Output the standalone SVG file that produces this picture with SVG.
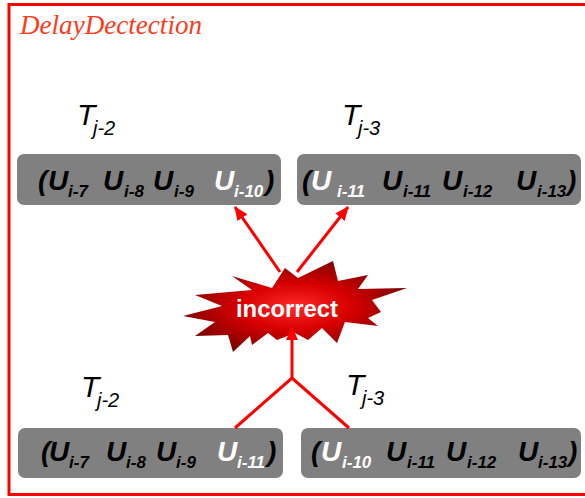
<svg xmlns="http://www.w3.org/2000/svg" width="585" height="498" viewBox="0 0 585 498">
<style>
.box{fill:#808080;}
.u{font-family:"Liberation Sans",Arial,sans-serif;font-weight:bold;font-style:italic;font-size:28px;fill:#000;}
.s{font-family:"Liberation Sans",Arial,sans-serif;font-weight:bold;font-style:italic;font-size:17px;fill:#000;}
.w{fill:#fff;}
.t{font-family:"Liberation Sans",Arial,sans-serif;font-style:italic;font-size:30px;fill:#000;}
.ts{font-family:"Liberation Sans",Arial,sans-serif;font-style:italic;font-size:20px;fill:#000;}
.conn{stroke:#ff0000;stroke-width:3;fill:none;}
</style>
<defs>
<marker id="ah" markerUnits="userSpaceOnUse" markerWidth="14" markerHeight="12" refX="13" refY="6" orient="auto">
<path d="M0,0 L14,6 L0,12 Z" fill="#ff0000"/>
</marker>
<radialGradient id="burst" cx="0.5" cy="0.5" r="0.55">
<stop offset="0" stop-color="#ff2a2a"/>
<stop offset="0.45" stop-color="#d80000"/>
<stop offset="1" stop-color="#780000"/>
</radialGradient>
</defs>
<rect width="585" height="498" fill="#fff"/>

<g id="frame">
<path d="M590,4.5 H9 V494.5 H590" fill="none" stroke="#ff0000" stroke-width="3"/>
<text x="20" y="34" font-family="'Liberation Serif','Times New Roman',serif" font-style="italic" font-size="28" fill="#ff3a1a" textLength="182" lengthAdjust="spacingAndGlyphs">DelayDectection</text>
</g>

<g id="label-tl">
<text class="t" x="77" y="125">T</text><text class="ts" x="93" y="135">j-2</text>
</g>
<g id="label-tr">
<text class="t" x="342" y="125">T</text><text class="ts" x="358" y="135">j-3</text>
</g>
<g id="label-bl">
<text class="t" x="81" y="397">T</text><text class="ts" x="97" y="407">j-2</text>
</g>
<g id="label-br">
<text class="t" x="346" y="395">T</text><text class="ts" x="362" y="405">j-3</text>
</g>

<g id="box-tl">
<rect class="box" x="17" y="154" width="264" height="51" rx="7"/>
<text class="u" x="38" y="190">(</text>
<text class="u" x="48" y="190">U</text><text class="s" x="68" y="197">i-7</text>
<text class="u" x="103" y="190">U</text><text class="s" x="124" y="197">i-8</text>
<text class="u" x="153" y="190">U</text><text class="s" x="174" y="197">i-9</text>
<text class="u w" x="214" y="190">U</text><text class="s w" x="234" y="197">i-10</text>
<text class="u" x="265" y="190">)</text>
</g>

<g id="box-tr">
<rect class="box" x="297" y="154" width="284" height="51" rx="7"/>
<text class="u" x="302" y="190">(</text>
<text class="u w" x="311" y="190">U</text><text class="s w" x="337" y="197">i-11</text>
<text class="u" x="382" y="190">U</text><text class="s" x="403" y="197">i-11</text>
<text class="u" x="442" y="190">U</text><text class="s" x="463" y="197">i-12</text>
<text class="u" x="516" y="190">U</text><text class="s" x="537" y="197">i-13</text>
<text class="u" x="567" y="190">)</text>
</g>

<g id="box-bl">
<rect class="box" x="18" y="428" width="265" height="50" rx="7"/>
<text class="u" x="41" y="461">(</text>
<text class="u" x="49" y="461">U</text><text class="s" x="69" y="468">i-7</text>
<text class="u" x="106" y="461">U</text><text class="s" x="126" y="468">i-8</text>
<text class="u" x="156" y="461">U</text><text class="s" x="176" y="468">i-9</text>
<text class="u w" x="217" y="461">U</text><text class="s w" x="237" y="468">i-11</text>
<text class="u" x="267" y="461">)</text>
</g>

<g id="box-br">
<rect class="box" x="301" y="428" width="280" height="50" rx="7"/>
<text class="u" x="311" y="461">(</text>
<text class="u w" x="321" y="461">U</text><text class="s w" x="342" y="468">i-10</text>
<text class="u" x="386" y="461">U</text><text class="s" x="407" y="468">i-11</text>
<text class="u" x="446" y="461">U</text><text class="s" x="467" y="468">i-12</text>
<text class="u" x="518" y="461">U</text><text class="s" x="538" y="468">i-13</text>
<text class="u" x="568" y="461">)</text>
</g>

<g id="incorrect">
<polygon fill="url(#burst)" points="285,268 298,278 333,261 338,281 368,275 358,289 407,288 372,300 381,312 368,318 378,326 345,322 337,343 322,328 308,340 295,333 277,340 268,333 252,345 250,336 233,352 228,335 195,336 215,322 183,316 222,306 195,295 252,290 232,276 272,288"/>
<text x="236" y="317" font-family="'Liberation Sans',Arial,sans-serif" font-weight="bold" font-size="24" fill="#fff" textLength="102" lengthAdjust="spacingAndGlyphs">incorrect</text>
</g>

<g id="connectors">
<line class="conn" x1="280" y1="272" x2="235" y2="207" marker-end="url(#ah)"/>
<line class="conn" x1="297" y1="272" x2="348" y2="207" marker-end="url(#ah)"/>
<polyline class="conn" points="235,428 292,378 349,428"/>
<line class="conn" x1="292" y1="378" x2="292" y2="327" marker-end="url(#ah)"/>
</g>
</svg>
